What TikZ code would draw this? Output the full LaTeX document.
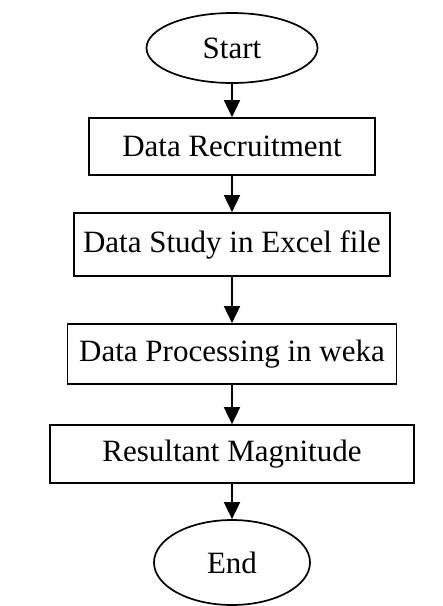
\documentclass[tikz,border=0pt]{standalone}
\usepackage{fontspec}
\setmainfont{Liberation Serif}
\usetikzlibrary{shapes.geometric,arrows.meta}
\begin{document}
\begin{tikzpicture}[x=1pt,y=1pt,
  every node/.style={font=\fontsize{31}{36}\selectfont, inner sep=0pt},
  stepbox/.style={draw, line width=1.7pt, rectangle},
  terminal/.style={draw, line width=1.7pt, ellipse},
  flow/.style={line width=1.7pt, -{Triangle[width=16pt,length=17pt]}}]
\useasboundingbox (0,0) rectangle (443,-606);
% terminals and process steps, top to bottom
\node[terminal, minimum width=171pt, minimum height=70pt] (start) at (232,-48) {Start};
\node[stepbox, minimum width=286pt, minimum height=57pt] (recruit) at (232,-146.5) {Data Recruitment};
\node[stepbox, minimum width=316pt, minimum height=63pt] (study) at (232,-244.5) {Data Study in Excel file};
\node[stepbox, minimum width=329pt, minimum height=60pt] (process) at (232,-354) {Data Processing in weka};
\node[stepbox, minimum width=364pt, minimum height=58pt] (result) at (232,-454) {Resultant Magnitude};
\node[terminal, minimum width=156pt, minimum height=85pt] (end) at (232,-562.5) {End};
% connectors
\draw[flow] (start) -- (recruit);
\draw[flow] (recruit) -- (study);
\draw[flow] (study) -- (process);
\draw[flow] (process) -- (result);
\draw[flow] (result) -- (end);
\end{tikzpicture}
\end{document}
